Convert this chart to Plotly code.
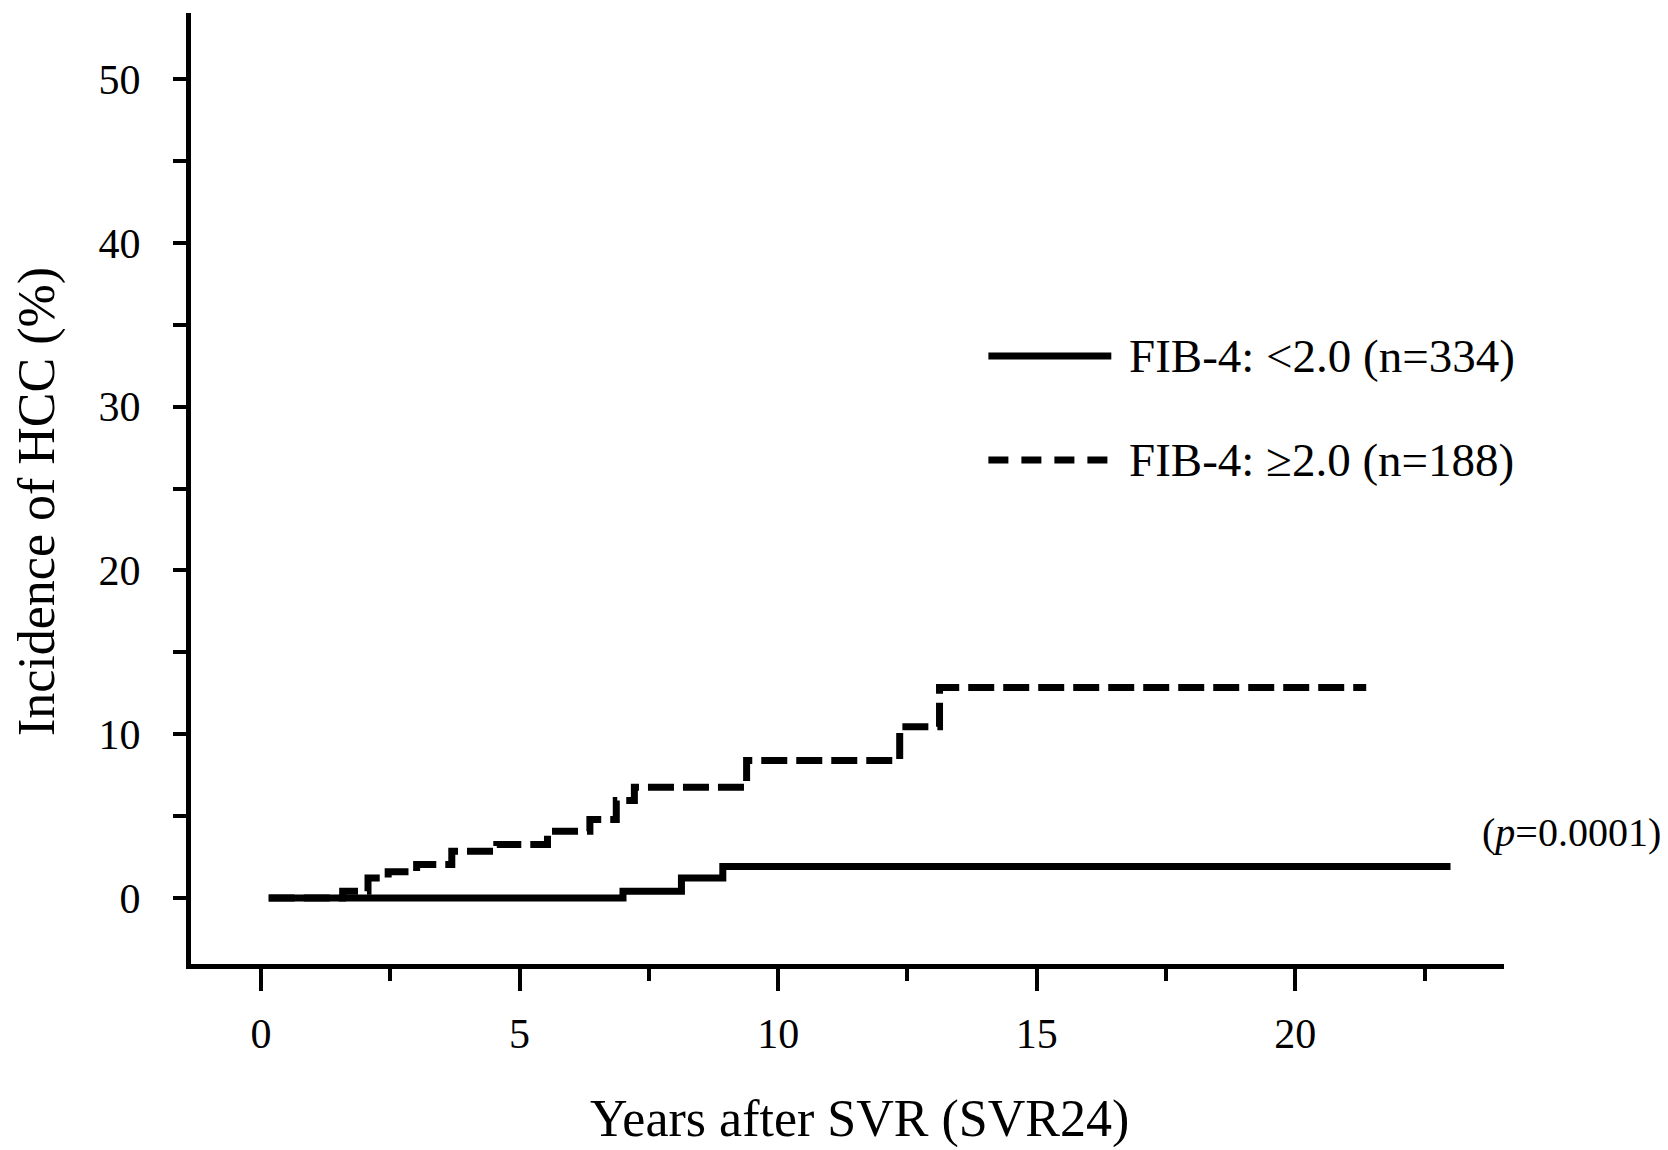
import plotly.graph_objects as go

# ---- data ----
low_x = [0.15, 7.00, 8.13, 8.93, 23.0]
low_y = [0.0, 0.41, 1.22, 1.93, 1.93]

high_x = [0.15, 1.58, 2.07, 2.46, 3.01, 3.69, 4.56, 5.54, 6.36, 6.87, 7.22, 9.39, 12.35, 13.12, 21.37]
high_y = [0.0, 0.41, 1.22, 1.60, 2.04, 2.85, 3.26, 4.07, 4.79, 5.95, 6.76, 8.39, 10.46, 12.85, 12.85]

x_ticks = [0, 5, 10, 15, 20]
y_ticks = [0, 10, 20, 30, 40, 50]

labels = ["FIB-4: &lt;2.0 (n=334)", "FIB-4: ≥2.0 (n=188)"]
p_text = "(<i>p</i>=0.0001)"
x_title = "Years after SVR (SVR24)"
y_title = "Incidence of HCC (%)"

# ---- layout geometry (pixels) ----
W, H = 1668, 1150
DX, DY = -8.5, -8.0
L, R, T, B = 191 + DX, 1505 + DX, 13 + DY, 964 + DY  # plot area pixel bounds
X0PIX, XSCALE = 261 + DX, 51.76   # pixel of x=0, px per year
Y0PIX, YSCALE = 898 + DY, 16.38   # pixel of y=0, px per percent
FONT = "Liberation Serif, Times New Roman, serif"


def px(x):
    return (x + DX - L) / (R - L)


def py(y):
    return (B - (y + DY)) / (B - T)


fig = go.Figure()
fig.add_trace(go.Scatter(x=low_x, y=low_y, mode="lines", line=dict(shape="hv", color="black", width=7),
                         name=labels[0], showlegend=False))
fig.add_trace(go.Scatter(x=high_x, y=high_y, mode="lines",
                         line=dict(shape="hv", color="black", width=7, dash="26px,9px"),
                         name=labels[1], showlegend=False))

# legend drawn manually
leg_y = [356, 460]
fig.add_shape(type="line", xref="paper", yref="paper", x0=px(989), x1=px(1112), y0=py(leg_y[0]), y1=py(leg_y[0]),
              line=dict(color="black", width=7))
fig.add_shape(type="line", xref="paper", yref="paper", x0=px(989), x1=px(1112), y0=py(leg_y[1]), y1=py(leg_y[1]),
              line=dict(color="black", width=7, dash="20px,13px"))
for i, t in enumerate(labels):
    fig.add_annotation(text=t, xref="paper", yref="paper", x=px(1128), y=py(leg_y[i]), xanchor="left",
                       yanchor="middle", showarrow=False, font=dict(family=FONT, size=47, color="black"))

fig.add_annotation(text=p_text, xref="paper", yref="paper", x=px(1481), y=py(832), xanchor="left",
                   yanchor="middle", showarrow=False, font=dict(family=FONT, size=40, color="black"))

fig.add_annotation(text=x_title, xref="paper", yref="paper", x=px(860), y=py(1119), xanchor="center",
                   yanchor="middle", showarrow=False, font=dict(family=FONT, size=52, color="black"))
fig.add_annotation(text=y_title, xref="paper", yref="paper", x=px(37), y=py(502), xanchor="center",
                   yanchor="middle", textangle=-90, showarrow=False, font=dict(family=FONT, size=52, color="black"))

fig.update_layout(
    width=W, height=H,
    margin=dict(l=L, r=W - R, t=T, b=H - B, pad=0),
    paper_bgcolor="white", plot_bgcolor="white",
    font=dict(family=FONT, color="black"),
)
fig.update_xaxes(range=[(L - X0PIX) / XSCALE, (R - X0PIX) / XSCALE], showgrid=False, zeroline=False,
                 showline=True, linecolor="black", linewidth=5,
                 tickvals=x_ticks, ticks="outside", ticklen=22, tickwidth=4, tickcolor="black",
                 tickfont=dict(family=FONT, size=42, color="black"), ticklabelstandoff=7,
                 minor=dict(tick0=2.5, dtick=5, ticks="outside", ticklen=12, tickwidth=4, tickcolor="black"))
fig.update_yaxes(range=[(Y0PIX - B) / YSCALE, (Y0PIX - T) / YSCALE], showgrid=False, zeroline=False,
                 showline=True, linecolor="black", linewidth=5,
                 tickvals=y_ticks, ticks="outside", ticklen=13, tickwidth=4, tickcolor="black",
                 tickfont=dict(family=FONT, size=42, color="black"), ticklabelstandoff=24,
                 minor=dict(tick0=0, dtick=5, ticks="outside", ticklen=13, tickwidth=4, tickcolor="black"))

fig.write_html("out.html")
